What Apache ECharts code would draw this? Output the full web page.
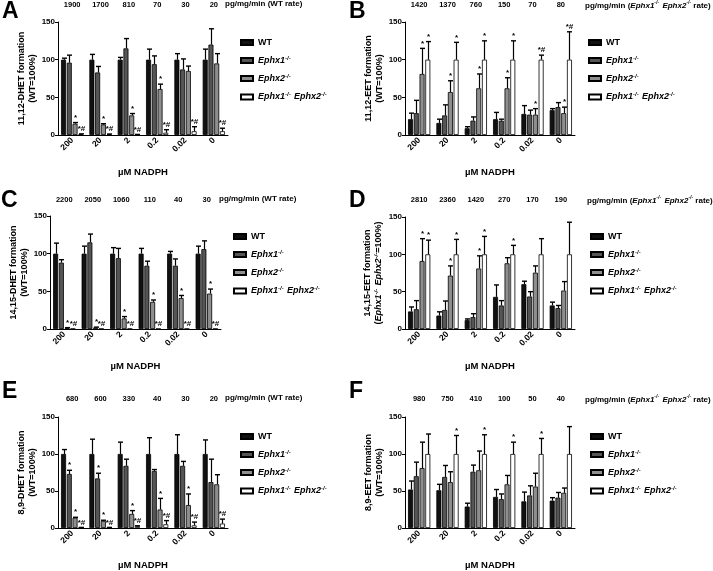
<!DOCTYPE html>
<html>
<head>
<meta charset="utf-8">
<script src="https://cdn.jsdelivr.net/npm/echarts@6/dist/echarts.min.js"></script>
<style>
  html, body { margin: 0; padding: 0; background: #fff; }
  #chart { width: 713px; height: 571px; }
</style>
</head>
<body>
<div id="chart"></div>
<script>
// categories
const nadph = ['200', '20', '2', '0.2', '0.02', '0'];
const genotypes = ['WT', 'Ephx1', 'Ephx2', 'DKO'];

// A: 11,12-DHET  (rows: WT, Ephx1, Ephx2, DKO)
const rateA = ['1900', '1700', '810', '70', '30', '20'];
const meanA = [
  [100, 100, 100, 100, 100, 100],
  [96, 83, 115, 94, 87, 120],
  [15, 14, 26, 61, 85, 95],
  [1, 1, 0.5, 3, 5, 5]
];
const semA = [
  [2, 7, 3, 14, 8, 14],
  [10, 8, 13, 11, 14, 21],
  [1.5, 1, 2.5, 6.5, 6.5, 13],
  [0.5, 0.3, 0.3, 4, 6, 4]
];
const markA = [
  ['', '', '', '', '', ''],
  ['', '', '', '', '', ''],
  ['*', '*', '*', '*', '', ''],
  ['*#', '*#', '*#', '*#', '*#', '*#']
];

// B: 11,12-EET
const rateB = ['1420', '1370', '760', '150', '70', '80'];
const meanB = [
  [21, 16, 9, 21, 28, 33],
  [29, 26, 19, 19, 27, 37],
  [81, 57, 62, 62, 27, 29],
  [100, 100, 100, 100, 100, 100]
];
const semB = [
  [8, 5, 2, 9, 11, 2],
  [17, 14, 5, 2, 6, 6],
  [34, 15, 19, 14, 8, 8],
  [24, 23, 25, 25, 6, 37]
];
const markB = [
  ['', '', '', '', '', ''],
  ['', '', '', '', '', ''],
  ['*', '*', '*', '*', '*', '*'],
  ['*', '*', '*', '*', '*#', '*#']
];

// C: 14,15-DHET
const rateC = ['2200', '2050', '1060', '110', '40', '30'];
const meanC = [
  [100, 100, 100, 100, 100, 100],
  [88, 115, 94, 84, 84, 106],
  [1.3, 2, 14, 36, 41, 47],
  [0.3, 0.3, 0.3, 0.3, 0.3, 0.3]
];
const semC = [
  [14, 10, 8, 7, 3, 10],
  [4, 11, 13, 6, 9, 11],
  [0.5, 0.5, 2.5, 2.5, 3.5, 6],
  [0, 0, 0, 0, 0, 0]
];
const markC = [
  ['', '', '', '', '', ''],
  ['', '', '', '', '', ''],
  ['*', '*', '*', '*', '*', '*'],
  ['*#', '*#', '*#', '*#', '*#', '*#']
];

// D: 14,15-EET
const rateD = ['2810', '2360', '1420', '270', '170', '190'];
const meanD = [
  [23.5, 18, 12, 43, 60, 31.5],
  [26.5, 25.5, 16, 31.5, 43.5, 28],
  [91, 71.5, 81, 88, 75.5, 51.5],
  [100, 100, 100, 100, 100, 100]
];
const semD = [
  [6, 5, 1.5, 16, 4, 4.5],
  [11.5, 12, 4.5, 6.5, 6.5, 3.5],
  [30, 13, 17, 7.5, 9, 12],
  [19, 20, 24, 12, 21, 43]
];
const markD = [
  ['', '', '', '', '', ''],
  ['', '', '', '', '', ''],
  ['*', '*', '*', '', '', ''],
  ['*', '*', '*', '*', '', '']
];

// E: 8,9-DHET
const rateE = ['680', '600', '330', '40', '30', '20'];
const meanE = [
  [100, 100, 100, 100, 100, 100],
  [73, 67, 84, 77, 84, 62],
  [14, 9.5, 19, 25, 31, 59],
  [0.5, 0.5, 2.5, 5, 3.5, 6]
];
const semE = [
  [6, 20, 16, 22, 26, 19],
  [5, 7, 9, 2, 6, 31],
  [0.5, 1, 4.5, 15, 15, 13],
  [0.3, 0.3, 0.5, 5, 4.5, 6]
];
const markE = [
  ['', '', '', '', '', ''],
  ['*', '*', '', '', '', ''],
  ['*', '*', '*', '*', '*', ''],
  ['*#', '*#', '*#', '*#', '*#', '*#']
];

// F: 8,9-EET
const rateF = ['980', '750', '410', '100', '50', '40'];
const meanF = [
  [52, 51, 29, 42, 36, 37],
  [70, 69, 76, 39, 44, 41],
  [81, 62, 78, 59, 56, 47.5],
  [100, 100, 100, 100, 100, 100]
];
const semF = [
  [11.5, 8, 4.5, 10, 12.5, 4],
  [19, 15.5, 9, 7, 13, 7],
  [35, 14, 26, 12, 18, 6.5],
  [27, 25, 26, 16, 21, 37]
];
const markF = [
  ['', '', '', '', '', ''],
  ['', '', '', '', '', ''],
  ['', '', '', '', '', ''],
  ['', '*', '*', '*', '*', '']
];

const FONT = 'Liberation Sans, Arial, sans-serif';
const BAR_W = 5;
const BAR_GAP = 0.15;
const BAR_STEP = BAR_W * (1 + BAR_GAP);
const colors = ['#111111', '#555555', '#8e8e8e', '#ffffff'];

const rich = {
  b: { fontWeight: 'bold', fontSize: 9, fontFamily: FONT },
  i: { fontWeight: 'bold', fontStyle: 'italic', fontSize: 9, fontFamily: FONT },
  s: { fontWeight: 'bold', fontStyle: 'italic', fontSize: 6, fontFamily: FONT, verticalAlign: 'top', lineHeight: 11 }
};
const richNames = {
  WT: '{b|WT}',
  Ephx1: '{i|Ephx1}{s|-/-}',
  Ephx2: '{i|Ephx2}{s|-/-}',
  DKO: '{i|Ephx1}{s|-/-} {i|Ephx2}{s|-/-}'
};

// panel set-up (layout only; values come from arrays above)
const panels = [
  { letter: 'A', rate: rateA, mean: meanA, sem: semA, mark: markA,
    yName: '{b|11,12-DHET formation}\n{b|(WT=100%)}', unit: '{b|pg/mg/min (WT rate)}',
    grid: { left: 58, top: 22, width: 170, height: 113 }, lx: 240, ly: 37, ux: 225, uy: 5, lt: [2, 0] },
  { letter: 'B', rate: rateB, mean: meanB, sem: semB, mark: markB,
    yName: '{b|11,12-EET formation}\n{b|(WT=100%)}', unit: '{b|pg/mg/min (}{i|Ephx1}{s|-/-} {i|Ephx2}{s|-/-}{b| rate)}',
    grid: { left: 405, top: 22, width: 170, height: 113 }, lx: 588, ly: 37, ux: 585, uy: 5, lt: [349, 0] },
  { letter: 'C', rate: rateC, mean: meanC, sem: semC, mark: markC,
    yName: '{b|14,15-DHET formation}\n{b|(WT=100%)}', unit: '{b|pg/mg/min (WT rate)}',
    grid: { left: 50, top: 216, width: 171, height: 113 }, lx: 233, ly: 231, ux: 219, uy: 200, lt: [1, 189] },
  { letter: 'D', rate: rateD, mean: meanD, sem: semD, mark: markD,
    yName: '{b|14,15-EET formation}\n{b|(}{i|Ephx1}{s|-/-} {i|Ephx2}{s|-/-}{b|=100%)}', unit: '{b|pg/mg/min (}{i|Ephx1}{s|-/-} {i|Ephx2}{s|-/-}{b| rate)}',
    grid: { left: 405, top: 217, width: 170, height: 112 }, lx: 590, ly: 231, ux: 587, uy: 200, lt: [349, 189] },
  { letter: 'E', rate: rateE, mean: meanE, sem: semE, mark: markE,
    yName: '{b|8,9-DHET formation}\n{b|(WT=100%)}', unit: '{b|pg/mg/min (WT rate)}',
    grid: { left: 58, top: 417, width: 170, height: 112 }, lx: 240, ly: 431, ux: 225, uy: 399, lt: [2, 380] },
  { letter: 'F', rate: rateF, mean: meanF, sem: semF, mark: markF,
    yName: '{b|8,9-EET formation}\n{b|(WT=100%)}', unit: '{b|pg/mg/min (}{i|Ephx1}{s|-/-} {i|Ephx2}{s|-/-}{b| rate)}',
    grid: { left: 405, top: 417, width: 170, height: 113 }, lx: 590, ly: 431, ux: 585, uy: 399, lt: [349, 380] }
];

function errRender(marks) {
  return function (params, api) {
    const cat = api.value(0);
    const g = api.value(1);
    const m = api.value(2);
    const top = api.value(3);
    const p0 = api.coord([cat, m]);
    const p1 = api.coord([cat, top]);
    const x = Math.round(p0[0] + (g - 1.5) * BAR_STEP) + 0.5;
    const children = [];
    if (top > m) {
      children.push({ type: 'line', shape: { x1: x, y1: p0[1], x2: x, y2: p1[1] }, style: { stroke: '#000', lineWidth: 1.2 } });
      children.push({ type: 'line', shape: { x1: x - 2.5, y1: p1[1], x2: x + 2.5, y2: p1[1] }, style: { stroke: '#000', lineWidth: 1.4 } });
    }
    const txt = marks[params.dataIndex];
    if (txt) {
      children.push({ type: 'text', x: x, y: p1[1] - 1,
        style: { text: txt, fontSize: 8, fontWeight: 'bold', fontFamily: FONT, align: 'center', verticalAlign: 'bottom', fill: '#000' } });
    }
    return { type: 'group', children: children };
  };
}

const grid = [], xAxis = [], yAxis = [], series = [], legend = [], graphic = [];

panels.forEach(function (p, i) {
  grid.push(p.grid);
  xAxis.push({
    type: 'category', gridIndex: i, data: nadph, position: 'bottom',
    axisLine: { lineStyle: { color: '#000', width: 1 } },
    axisTick: { alignWithLabel: true, length: 3, lineStyle: { color: '#000' } },
    axisLabel: { rotate: 45, fontSize: 8.5, fontWeight: 'bold', color: '#000', margin: 4, fontFamily: FONT },
    name: '\u00b5M NADPH', nameLocation: 'middle', nameGap: 32,
    nameTextStyle: { fontSize: 9.5, fontWeight: 'bold', color: '#000', fontFamily: FONT }
  });
  xAxis.push({
    type: 'category', gridIndex: i, data: p.rate, position: 'top',
    axisLine: { show: false }, axisTick: { show: false },
    axisLabel: { fontSize: 7.5, fontWeight: 'bold', color: '#000', margin: p.grid.top - p.uy - 4, fontFamily: FONT }
  });
  yAxis.push({
    type: 'value', gridIndex: i, min: 0, max: 150, interval: 50,
    splitLine: { show: false },
    axisLine: { show: true, lineStyle: { color: '#000', width: 1 } },
    axisTick: { show: true, length: 3, lineStyle: { color: '#000' } },
    axisLabel: { fontSize: 8, fontWeight: 'bold', color: '#000', margin: 3, fontFamily: FONT },
    name: p.yName, nameLocation: 'middle', nameGap: 20, nameRotate: 90,
    nameTextStyle: { color: '#000', lineHeight: 11, rich: rich }
  });

  const errData = [];
  const errMarks = [];
  genotypes.forEach(function (gname, g) {
    series.push({
      name: gname, type: 'bar', xAxisIndex: 2 * i, yAxisIndex: i,
      data: p.mean[g], barWidth: BAR_W, barGap: (BAR_GAP * 100) + '%',
      itemStyle: { color: colors[g], borderColor: '#000', borderWidth: 0.8 },
      animation: false
    });
    nadph.forEach(function (c, k) {
      errData.push([k, g, p.mean[g][k], p.mean[g][k] + p.sem[g][k]]);
      errMarks.push(p.mark[g][k]);
    });
  });
  series.push({
    name: 'err' + p.letter, type: 'custom', xAxisIndex: 2 * i, yAxisIndex: i,
    data: errData, encode: { x: 0, y: 3 }, renderItem: errRender(errMarks),
    z: 5, silent: true, animation: false
  });

  legend.push({
    data: genotypes, orient: 'vertical', left: p.lx, top: p.ly, padding: 0,
    icon: 'rect', itemWidth: 12, itemHeight: 5, itemGap: 7,
    formatter: function (n) { return richNames[n]; },
    textStyle: { color: '#000', lineHeight: 11, rich: rich }
  });

  graphic.push({
    type: 'text', left: p.lt[0], top: p.lt[1],
    style: { text: p.letter, fontSize: 23, fontWeight: 'bold', fontFamily: FONT, fill: '#000' }
  });
  graphic.push({
    type: 'text', left: p.ux, top: p.uy - 5,
    style: { text: p.unit, fill: '#000', rich: {
      b: { fontWeight: 'bold', fontSize: 8, fontFamily: FONT },
      i: { fontWeight: 'bold', fontStyle: 'italic', fontSize: 8, fontFamily: FONT },
      s: { fontWeight: 'bold', fontStyle: 'italic', fontSize: 5, fontFamily: FONT, verticalAlign: 'top', lineHeight: 10 }
    } }
  });
});

const chart = echarts.init(document.getElementById('chart'));
chart.setOption({
  animation: false,
  backgroundColor: '#fff',
  textStyle: { fontFamily: FONT },
  grid: grid,
  xAxis: xAxis,
  yAxis: yAxis,
  legend: legend,
  graphic: graphic,
  series: series
});
</script>
</body>
</html>
